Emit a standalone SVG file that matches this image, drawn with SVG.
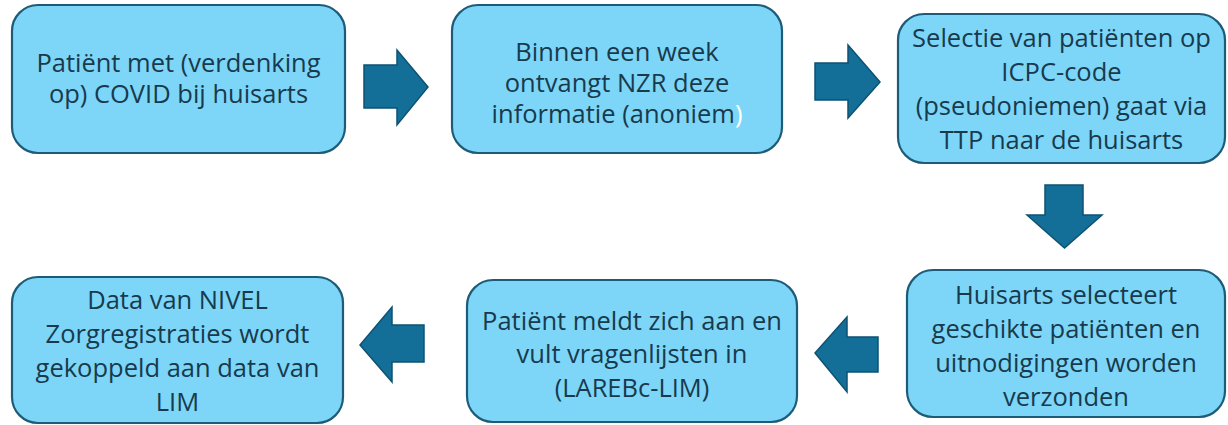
<svg xmlns="http://www.w3.org/2000/svg" width="1228" height="425" viewBox="0 0 1228 425">
<defs>
<style>
.box{fill:#7dd6f8;stroke:#1d5c78;stroke-width:2.2}
.arr{fill:#146f98;stroke:#0e5273;stroke-width:1.5;stroke-linejoin:miter}
text{font-family:"Open Sans","Liberation Sans",sans-serif;font-size:25.5px;fill:#183a4d;text-anchor:middle}
</style>
</defs>
<rect width="1228" height="425" fill="#ffffff"/>
<g id="node1">
<rect class="box" x="12" y="5" width="333" height="148" rx="26"/>
<text x="178.5" y="72">Patiënt met (verdenking</text>
<text x="178.5" y="103">op) COVID bij huisarts</text>
</g>
<g id="node2">
<rect class="box" x="452" y="5" width="330" height="148" rx="26"/>
<text x="617" y="61">Binnen een week</text>
<text x="617" y="92">ontvangt NZR deze</text>
<text x="617" y="123">informatie (anoniem<tspan fill="#ffffff">)</tspan></text>
</g>
<g id="node3">
<rect class="box" x="898" y="14" width="327" height="149" rx="26"/>
<text x="1061.5" y="47">Selectie van patiënten op</text>
<text x="1061.5" y="81">ICPC-code</text>
<text x="1061.5" y="115">(pseudoniemen) gaat via</text>
<text x="1061.5" y="149">TTP naar de huisarts</text>
</g>
<g id="node4">
<rect class="box" x="907" y="270" width="318" height="147" rx="26"/>
<text x="1066" y="304">Huisarts selecteert</text>
<text x="1066" y="338">geschikte patiënten en</text>
<text x="1066" y="372">uitnodigingen worden</text>
<text x="1066" y="406">verzonden</text>
</g>
<g id="node5">
<rect class="box" x="467" y="280" width="330" height="142" rx="26"/>
<text x="632" y="330">Patiënt meldt zich aan en</text>
<text x="632" y="363">vult vragenlijsten in</text>
<text x="632" y="397">(LAREBc-LIM)</text>
</g>
<g id="node6">
<rect class="box" x="12" y="277" width="331" height="146" rx="26"/>
<text x="177.5" y="309">Data van NIVEL</text>
<text x="177.5" y="343">Zorgregistraties wordt</text>
<text x="177.5" y="377">gekoppeld aan data van</text>
<text x="177.5" y="411">LIM</text>
</g>
<g id="connectors">
<polygon class="arr" points="364,65 397,65 397,50 428,87 397,125 397,108 364,108"/>
<polygon class="arr" points="815,63 848,63 848,45 880,82 848,118 848,100 815,100"/>
<polygon class="arr" points="1045,185 1083,185 1083,215 1102,215 1064.5,248 1027,215 1045,215"/>
<polygon class="arr" points="878,337 847,337 847,317 815,353 847,392 847,372 878,372"/>
<polygon class="arr" points="424,325 392,325 392,307 360,345 392,382 392,362 424,362"/>
</g>
</svg>
